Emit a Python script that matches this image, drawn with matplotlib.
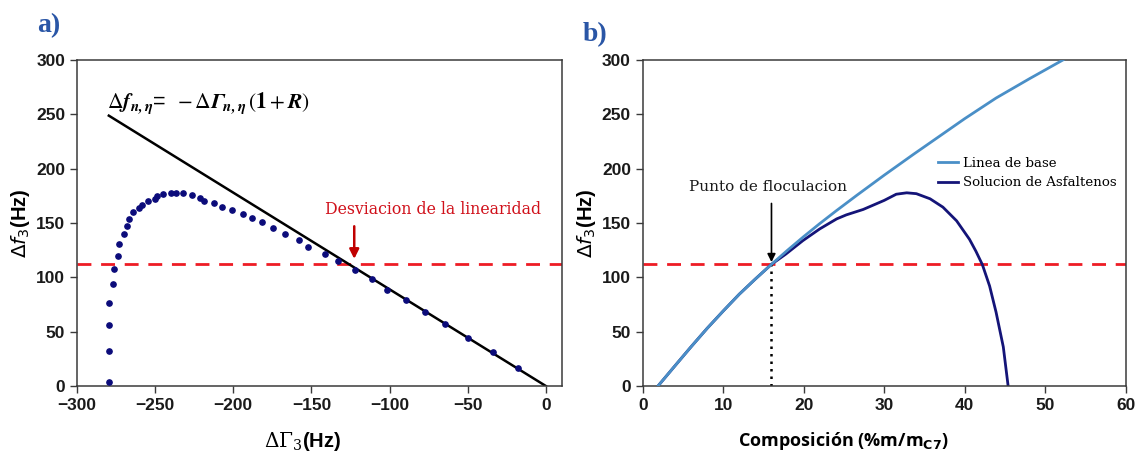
import numpy as np
import matplotlib
matplotlib.use("Agg")
import matplotlib.pyplot as plt

# ---- panel a data: dissipation vs frequency shift
gamma_dots = [-279.6, -279.6, -279.6, -279.4, -276.8, -276.0, -273.7, -273.2, -269.9, -268.0,
              -267.0, -264.2, -260.4, -258.7, -254.7, -250.0, -249.0, -244.7, -239.8, -236.9,
              -231.9, -226.7, -221.5, -218.7, -212.0, -207.3, -200.6, -194.0, -188.3, -181.9,
              -174.3, -167.2, -158.2, -152.0, -141.6, -132.8, -122.1, -111.0, -101.5, -89.2,
              -77.1, -64.5, -49.6, -33.7, -18.1]
f_dots = [4, 32, 56, 76, 93.6, 108, 120, 131, 139.6, 147.5,
          153.7, 159.8, 164, 166.9, 170.2, 172.4, 174.5, 176.4, 178, 178,
          177.6, 175.5, 173.3, 170.2, 168, 165, 162.3, 158.3, 154.9, 150.6,
          145, 140.2, 134.4, 128.2, 121.8, 115, 106.7, 98.8, 88.7, 79.4,
          68.4, 57, 43.9, 31, 16.6]
gamma_line = [-279.6, 0]
f_line = [248.8, 0]

f_limit = 112          # red dashed level
gamma_dev = -122.6     # deviation arrow position

# ---- panel b data: composition curves
comp_base = [1.9, 4, 6, 8, 10, 12, 14, 16, 18, 20, 22, 24, 26.6, 30,
             33.6, 36.9, 40, 43.9, 48.1, 52.2]
f_base = [0, 18.5, 36, 53, 69, 84.5, 98.5, 112, 125, 137.5, 149.5, 161, 175.5, 194,
          213, 230, 246, 265, 283, 300]
comp_asf = [1.9, 4, 6, 8, 10, 12, 14, 16, 17.8, 19.9, 22, 24.1, 25.3, 27.4,
            30, 31.5, 32.8, 34, 35.7, 37.3, 39, 40.6, 41.4, 42.2, 43.1, 43.9, 44.8, 45.4]
f_asf = [0, 18.5, 36, 53, 69, 84.5, 98.5, 112, 121.5, 133.8, 144.6, 153.8, 157.5, 162.5,
         170.8, 176.5, 177.8, 177, 172.3, 164.6, 152, 135, 124, 111.7, 92, 68, 36, 0]
comp_floc = 16

plt.rcParams['font.family'] = 'Liberation Sans'
plt.rcParams['mathtext.fontset'] = 'dejavusans'

fig = plt.figure(figsize=(11.45, 4.55), dpi=100)
axa = fig.add_axes([0.0672, 0.1516, 0.4232, 0.7165])
axb = fig.add_axes([0.5613, 0.1516, 0.4218, 0.7165])

for ax in (axa, axb):
    for s in ax.spines.values():
        s.set_color('#3a3a3a')
        s.set_linewidth(1.1)
    ax.tick_params(direction='out', length=5, width=1, color='#3a3a3a',
                   labelsize=12.5, labelcolor='#1a1a1a')
    ax.axhline(f_limit, color='#ee1c25', lw=2, ls=(0, (5, 3.5)), zorder=1)
    ax.set_ylim(0, 300)
    ax.set_yticks(range(0, 301, 50))

# ---- a)
axa.plot(gamma_line, f_line, color='black', lw=1.8, zorder=2)
axa.plot(gamma_dots, f_dots, 'o', color='#0b0b7a', ms=3.8, zorder=3)
axa.set_xlim(-300, 10)
axa.set_xticks(range(-300, 1, 50))
for lab in axa.get_xticklabels() + axa.get_yticklabels():
    lab.set_fontweight('bold')
axa.text(-280.5, 260, r'$\Delta \mathbfit{f}_{\mathbfit{n,\eta}}$=  $-\,\Delta\mathbfit{\Gamma}_{\mathbfit{n,\eta}}\,(\mathbf{1}+\mathbfit{R})$',
         fontsize=15.5, math_fontfamily='stix', va='center', ha='left')
axa.annotate('', xy=(gamma_dev, 117), xytext=(gamma_dev, 147),
             arrowprops=dict(arrowstyle='-|>', color='#c00000', lw=1.8,
                             mutation_scale=14, shrinkA=0, shrinkB=0))
axa.text(-72, 162.5, 'Desviacion de la linearidad', color='#d0101a',
         fontsize=11.3, family='DejaVu Serif', ha='center', va='center')
axa.set_ylabel(r'$\Delta f_3$(Hz)', fontsize=14.5, fontweight='bold', labelpad=3)
axa.set_xlabel(r'$\Delta\Gamma_3$(Hz)', fontsize=14.5, fontweight='bold', labelpad=12,
               math_fontfamily='dejavuserif')
axa.xaxis.set_label_coords(0.466, -0.135)

# ---- b)
axb.plot(comp_base, f_base, color='#4a8fc7', lw=2, label='Linea de base', zorder=3)
axb.plot(comp_asf, f_asf, color='#141478', lw=2, label='Solucion de Asfaltenos', zorder=2)
axb.plot([comp_floc, comp_floc], [0, f_limit], color='black', lw=1.8, ls=(0, (1, 2)), zorder=2)
axb.annotate('', xy=(comp_floc, 114), xytext=(comp_floc, 168),
             arrowprops=dict(arrowstyle='-|>', color='black', lw=1.2,
                             mutation_scale=12, shrinkA=0, shrinkB=0))
axb.text(15.6, 183, 'Punto de floculacion', fontsize=11, family='DejaVu Serif',
         ha='center', va='center', color='#1a1a1a')
axb.set_xlim(0, 60)
axb.set_xticks(range(0, 61, 10))
for lab in axb.get_xticklabels() + axb.get_yticklabels():
    lab.set_fontweight('bold')
leg = axb.legend(loc='upper left', bbox_to_anchor=(0.6, 0.72), frameon=False,
                 prop={'family': 'DejaVu Serif', 'size': 9.6}, handlelength=1.5,
                 handletextpad=0.4, labelspacing=0.5, borderaxespad=0)
axb.set_ylabel(r'$\Delta f_3$(Hz)', fontsize=14.5, fontweight='bold', labelpad=3)
axb.set_xlabel(r'Composición (%m/m$_{\mathbf{C7}}$)', fontsize=13, fontweight='bold',
               family='Open Sans')
axb.xaxis.set_label_coords(0.415, -0.135)

fig.text(0.032, 0.93, 'a)', fontsize=20, fontweight='bold', family='Liberation Serif',
         color='#2a56a6')
fig.text(0.509, 0.91, 'b)', fontsize=20, fontweight='bold', family='Liberation Serif',
         color='#2a56a6')

fig.savefig('out.png', dpi=100)
